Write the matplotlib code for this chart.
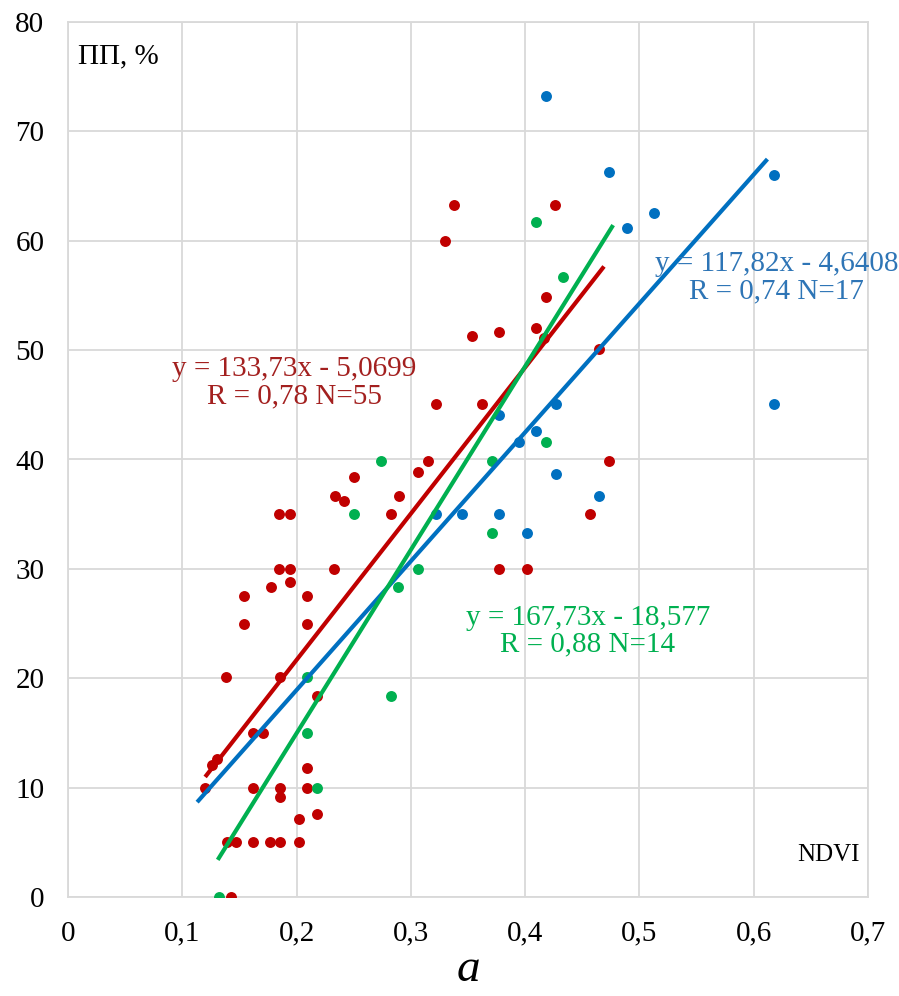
import matplotlib
matplotlib.use("Agg")
import matplotlib.pyplot as plt
import numpy as np

# Observations: NDVI vs ПП, %
red_x = [0.1425, 0.139, 0.147, 0.162, 0.177, 0.1855, 0.202, 0.202, 0.218, 0.1855,
         0.120, 0.162, 0.1855, 0.209, 0.209, 0.130, 0.126, 0.162, 0.171, 0.218,
         0.138, 0.1855, 0.154, 0.209, 0.154, 0.209, 0.178, 0.194, 0.185, 0.194,
         0.233, 0.185, 0.194, 0.283, 0.2335, 0.2415, 0.2895, 0.250, 0.306, 0.315,
         0.322, 0.362, 0.3535, 0.377, 0.4095, 0.4165, 0.4645, 0.330, 0.338, 0.426,
         0.418, 0.473, 0.457, 0.377, 0.4015]
red_y = [0.0, 5.0, 5.0, 5.0, 5.0, 5.0, 5.0, 7.1, 7.6, 9.1,
         10.0, 10.0, 10.0, 10.0, 11.8, 12.6, 12.1, 15.0, 15.0, 18.4,
         20.1, 20.1, 25.0, 25.0, 27.5, 27.5, 28.3, 28.8, 30.0, 30.0,
         30.0, 35.0, 35.0, 35.0, 36.7, 36.2, 36.7, 38.4, 38.9, 39.9,
         45.1, 45.1, 51.3, 51.7, 52.0, 51.1, 50.1, 60.0, 63.3, 63.3,
         54.9, 39.9, 35.0, 30.0, 30.0]

blue_x = [0.418, 0.473, 0.489, 0.513, 0.618, 0.618, 0.427, 0.3946, 0.4095, 0.427,
          0.4645, 0.345, 0.377, 0.4015, 0.377, 0.322]
blue_y = [73.2, 66.3, 61.2, 62.5, 66.0, 45.1, 45.1, 41.6, 42.6, 38.7,
          36.7, 35.0, 35.0, 33.3, 44.1, 35.0]

green_x = [0.132, 0.218, 0.209, 0.283, 0.289, 0.306, 0.250, 0.274, 0.371, 0.371,
           0.418, 0.433, 0.4095, 0.209]
green_y = [0.0, 10.0, 15.0, 18.4, 28.3, 30.0, 35.0, 39.9, 33.3, 39.9,
           41.6, 56.7, 61.7, 20.1]

# Linear trend coefficients (slope, intercept) and drawn x-extent
red_fit = (133.73, -5.0699)
blue_fit = (117.82, -4.6408)
green_fit = (167.73, -18.577)
red_span = (0.120, 0.469)
blue_span = (0.113, 0.612)
green_span = (0.131, 0.477)

red_label = "y = 133,73x - 5,0699\nR = 0,78 N=55"
blue_label = "y = 117,82x - 4,6408\nR = 0,74 N=17"
green_label = "y = 167,73x - 18,577\nR = 0,88 N=14"

x_ticks = [0, 0.1, 0.2, 0.3, 0.4, 0.5, 0.6, 0.7]
x_ticklabels = ["0", "0,1", "0,2", "0,3", "0,4", "0,5", "0,6", "0,7"]
y_ticks = [0, 10, 20, 30, 40, 50, 60, 70, 80]

RED = "#C00000"
BLUE = "#0070C0"
GREEN = "#00B050"
RED_TXT = "#A3201F"
BLUE_TXT = "#2E75B6"
GREEN_TXT = "#00B050"

serif = ["Liberation Serif", "DejaVu Serif"]
plt.rcParams["font.family"] = serif

fig = plt.figure(figsize=(8.99, 9.96), dpi=100)
ax = fig.add_axes([68 / 899, 99 / 996, 800 / 899, 875 / 996])

ax.set_xlim(0, 0.7)
ax.set_ylim(0, 80)
ax.set_xticks(x_ticks)
ax.set_xticklabels(x_ticklabels)
ax.set_yticks(y_ticks)
ax.tick_params(axis="both", length=0, labelsize=21, labelcolor="#000000")
ax.tick_params(axis="x", pad=17)
ax.tick_params(axis="y", pad=17)
ax.grid(True, color="#D9D9D9", linewidth=1.3)
ax.set_axisbelow(True)
for s in ax.spines.values():
    s.set_color("#D9D9D9")
    s.set_linewidth(1.3)

ms = 62
ax.scatter(red_x, red_y, s=ms, color=RED, zorder=3, linewidths=0)
ax.scatter(green_x, green_y, s=ms, color=GREEN, zorder=3, linewidths=0)
ax.scatter(blue_x, blue_y, s=ms, color=BLUE, zorder=3, linewidths=0)

for fit, span, col in [(red_fit, red_span, RED), (blue_fit, blue_span, BLUE),
                       (green_fit, green_span, GREEN)]:
    xs = np.array(span)
    ax.plot(xs, fit[0] * xs + fit[1], color=col, linewidth=3.0, zorder=4,
            solid_capstyle="butt")

ax.text(0.198, 47.0, red_label, color=RED_TXT, fontsize=21, ha="center",
        va="center", linespacing=1.05, zorder=5)
ax.text(0.455, 24.3, green_label, color=GREEN_TXT, fontsize=21, ha="center",
        va="center", linespacing=1.05, zorder=5)
ax.text(0.620, 56.6, blue_label, color=BLUE_TXT, fontsize=21, ha="center",
        va="center", linespacing=1.05, zorder=5, clip_on=False)

ax.text(0.012, 0.975, "ПП, %", transform=ax.transAxes, fontsize=21,
        ha="left", va="top")
ax.text(0.99, 0.035, "NDVI", transform=ax.transAxes, fontsize=18,
        ha="right", va="bottom")
fig.text(468 / 899, 1 - 970 / 996, "a", fontsize=34, style="italic",
         ha="center", va="center")

fig.savefig("out.png", dpi=100)
